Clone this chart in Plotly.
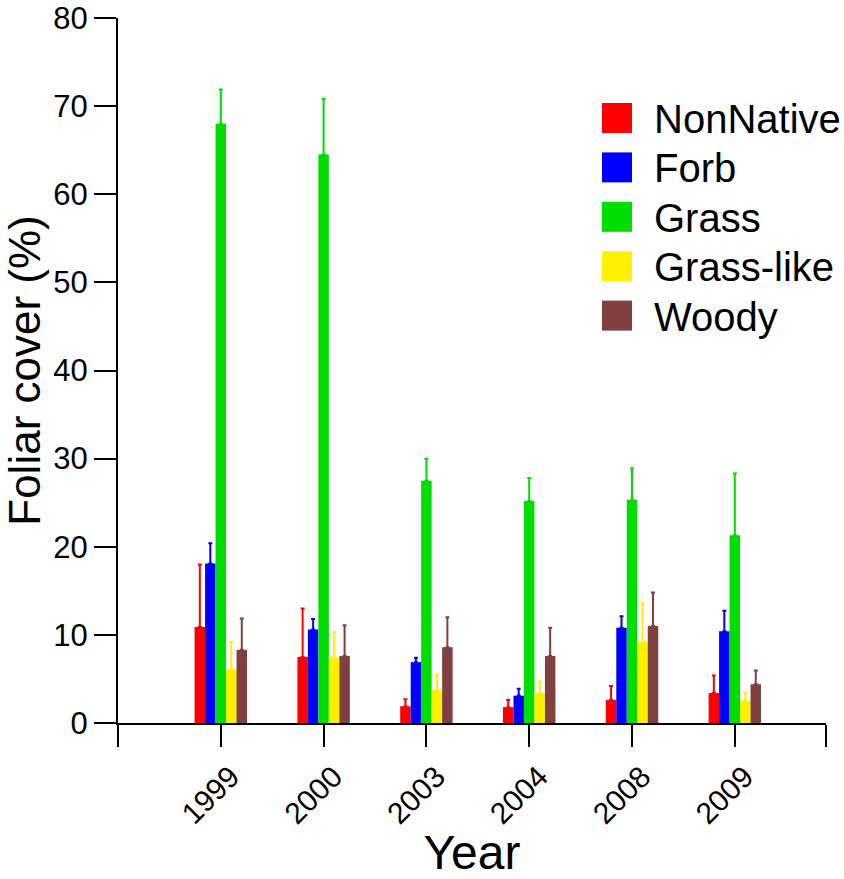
import plotly.graph_objects as go

# Foliar cover by plant group and survey year (mean and upper error)
years = ["1999", "2000", "2003", "2004", "2008", "2009"]
groups = ["NonNative", "Forb", "Grass", "Grass-like", "Woody"]

nonnative = [10.9, 7.5, 1.9, 1.8, 2.6, 3.4]
nonnative_err = [7.1, 5.5, 0.8, 0.8, 1.6, 2.0]
forb = [18.1, 10.6, 6.9, 3.1, 10.8, 10.4]
forb_err = [2.3, 1.2, 0.5, 0.8, 1.3, 2.35]
grass = [68.0, 64.5, 27.5, 25.2, 25.3, 21.3]
grass_err = [3.9, 6.3, 2.5, 2.6, 3.6, 7.0]
grasslike = [6.1, 7.4, 3.75, 3.4, 9.2, 2.55]
grasslike_err = [3.1, 2.9, 1.7, 1.3, 4.4, 0.9]
woody = [8.3, 7.6, 8.6, 7.6, 11.0, 4.4]
woody_err = [3.55, 3.5, 3.4, 3.2, 3.8, 1.55]

y_ticks = [0, 10, 20, 30, 40, 50, 60, 70, 80]

series = [
    (nonnative, nonnative_err, "#FF0000"),
    (forb, forb_err, "#0000FF"),
    (grass, grass_err, "#00DD00"),
    (grasslike, grasslike_err, "#FFF000"),
    (woody, woody_err, "#804040"),
]

FONT = "Liberation Sans, Arial, sans-serif"
W, H = 844, 879
ML, MR, MT, MB = 118, 18, 18, 156

positions = list(range(1, len(years) + 1))
x_end = 6.887

fig = go.Figure()
for name, (vals, errs, color) in zip(groups, series):
    fig.add_trace(go.Bar(
        x=positions, y=vals, name=name,
        marker=dict(color=color, line=dict(width=0)),
        error_y=dict(type="data", symmetric=False, array=errs,
                     arrayminus=[0] * len(errs), color=color,
                     thickness=2, width=2),
        showlegend=False,
    ))

# Legend drawn as large swatches with labels
plot_w = W - ML - MR
plot_h = H - MT - MB


def px_x(px):
    return (px - ML) / plot_w


def px_y(py):
    return (H - MB - py) / plot_h


row0, row_step = 118, 49.4
for i, (name, (_, _, color)) in enumerate(zip(groups, series)):
    cy = row0 + i * row_step
    fig.add_shape(type="rect", xref="paper", yref="paper",
                  x0=px_x(602), x1=px_x(632), y0=px_y(cy + 15), y1=px_y(cy - 15),
                  fillcolor=color, line=dict(width=0))
    fig.add_annotation(xref="paper", yref="paper", x=px_x(652), y=px_y(cy + 1),
                       xanchor="left", yanchor="middle", text=name,
                       showarrow=False, font=dict(family=FONT, size=40, color="black"))

fig.update_layout(
    width=W, height=H,
    margin=dict(l=ML, r=MR, t=MT, b=MB, autoexpand=False),
    paper_bgcolor="white", plot_bgcolor="white",
    barmode="group", bargap=0.49, bargroupgap=0,
    font=dict(family=FONT, color="black"),
    xaxis=dict(
        range=[0, x_end],
        tickmode="array",
        tickvals=[0] + positions + [x_end],
        ticktext=[""] + years + [""],
        tickangle=-45,
        tickfont=dict(size=30),
        ticklabelshift=10, ticklabelstandoff=0,
        ticks="outside", ticklen=22, tickwidth=2, tickcolor="black",
        showline=True, linecolor="black", linewidth=2,
        showgrid=False, zeroline=False, automargin=False,
        title=dict(text="Year", font=dict(size=48), standoff=22),
    ),
    yaxis=dict(
        range=[0, 80],
        tickmode="array", tickvals=y_ticks,
        tickfont=dict(size=31),
        ticks="outside", ticklen=22, tickwidth=2, tickcolor="black",
        showline=True, linecolor="black", linewidth=2,
        showgrid=False, zeroline=False, automargin=False,
        title=dict(text="Foliar cover (%)", font=dict(size=44), standoff=2),
    ),
)

fig.write_html("out.html")
